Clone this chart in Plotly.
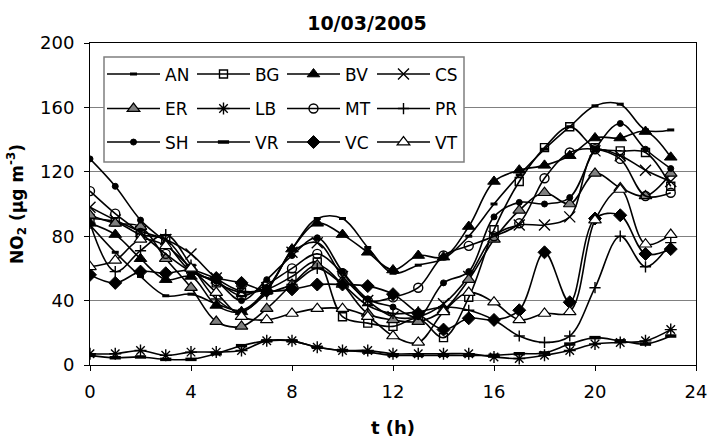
import plotly.graph_objects as go

# Hourly NO2 concentrations (µg m-3) at twelve stations, 10/03/2005
hours = list(range(24))

AN = [87, 70, 55, 43, 44, 38, 34, 47, 72, 91, 91, 73, 57, 62, 66, 80, 100, 118, 134, 148, 161, 162, 146, 146]
BG = [91, 89, 81, 78, 60, 51, 45, 47, 55, 64, 30, 26, 24, 29, 17, 42, 84, 114, 135, 148, 135, 133, 132, 111]
BV = [88, 81, 66, 53, 55, 37, 33, 46, 72, 88, 81, 70, 59, 68, 67, 86, 114, 121, 124, 130, 141, 141, 145, 129]
CS = [98, 90, 83, 78, 69, 54, 46, 48, 70, 76, 55, 40, 30, 30, 38, 55, 80, 87, 87, 92, 133, 130, 121, 114]
ER = [93, 88, 86, 66, 48, 27, 24, 35, 50, 62, 50, 32, 28, 27, 34, 53, 78, 96, 107, 100, 119, 110, 105, 119]
LB = [7, 7, 9, 6, 8, 8, 9, 15, 15, 11, 9, 9, 7, 7, 7, 7, 5, 4, 6, 9, 13, 14, 15, 22]
MT = [108, 94, 82, 69, 58, 52, 43, 50, 60, 69, 57, 40, 42, 48, 68, 74, 80, 88, 116, 132, 134, 128, 105, 107]
PR = [88, 58, 71, 81, 62, 41, 33, 44, 50, 60, 50, 37, 32, 33, 36, 34, 28, 18, 14, 18, 48, 80, 61, 76]
SH = [128, 111, 90, 76, 58, 52, 40, 53, 68, 79, 58, 41, 36, 30, 51, 58, 92, 101, 100, 104, 134, 150, 134, 122]
VR = [6, 4.5, 5, 3.5, 3.5, 7, 12, 15, 15, 11, 9, 8, 6, 6, 6, 6, 6, 7, 7.5, 13, 17, 15, 13, 18]
VC = [56, 51, 58, 57, 59, 54, 51, 46, 47, 50, 50, 49, 44, 32, 22, 29, 28, 34, 70, 39, 91, 93, 69, 72]
VT = [61, 65, 78, 74, 60, 45, 30, 28, 32, 35, 35, 30, 18, 14, 33, 45, 39, 28, 32, 33, 90, 109, 75, 81]

station_names = ["AN", "BG", "BV", "CS", "ER", "LB", "MT", "PR", "SH", "VR", "VC", "VT"]
station_values = [AN, BG, BV, CS, ER, LB, MT, PR, SH, VR, VC, VT]

FONT = "DejaVu Sans"
BLACK = "black"

# marker style per station: (symbol, size, fill colour, outline width)
marker_styles = {
    "AN": ("line-ew", 5, BLACK, 3),
    "BG": ("square-open", 8, BLACK, 1.4),
    "BV": ("triangle-up", 11, BLACK, 1),
    "CS": ("x-thin-open", 11, BLACK, 1.4),
    "ER": ("triangle-up", 11, "#808080", 1.2),
    "LB": ("asterisk-open", 10, BLACK, 1.4),
    "MT": ("circle-open", 9, BLACK, 1.4),
    "PR": ("cross-thin-open", 8, BLACK, 1.4),
    "SH": ("circle", 6, BLACK, 1),
    "VR": ("line-ew", 8, BLACK, 3.5),
    "VC": ("diamond", 10, BLACK, 1),
    "VT": ("triangle-up", 11, "white", 1.2),
}

# plot area in pixels
W, H = 709, 438
ML, MR, MT_, MB = 90, 13, 43, 73
PW, PH = W - ML - MR, H - MT_ - MB


def px_x(p):
    return (p - ML) / PW


def px_y(p):
    return (H - MB - p) / PH


fig = go.Figure()
legend_ids = ["legend", "legend2", "legend3"]
for i, (name, vals) in enumerate(zip(station_names, station_values)):
    sym, size, fill, lw = marker_styles[name]
    fig.add_trace(go.Scatter(
        x=hours, y=vals, name=name,
        mode="lines+markers",
        line=dict(color=BLACK, width=1.6, shape="spline", smoothing=1),
        marker=dict(symbol=sym, size=size, color=fill,
                    line=dict(color=BLACK, width=lw)),
        legend=legend_ids[i // 4],
        hoverinfo="x+y+name",
    ))

legend_rows_px = [74.5, 109, 142.5]
legend_common = dict(
    orientation="h", xanchor="left", yanchor="middle",
    x=px_x(102), entrywidth=22, entrywidthmode="pixels", itemwidth=53,
    font=dict(family=FONT, size=17, color=BLACK),
    bgcolor="rgba(0,0,0,0)", borderwidth=0, traceorder="normal",
)
legend_layout = {}
for lid, ypx in zip(legend_ids, legend_rows_px):
    legend_layout[lid] = dict(legend_common, y=px_y(ypx))

axis_common = dict(
    showline=True, linecolor=BLACK, linewidth=1, mirror=True,
    ticks="outside", ticklen=5, tickcolor=BLACK, tickwidth=1,
    tickfont=dict(family=FONT, size=18, color=BLACK),
    zeroline=False, automargin=False,
)

fig.update_layout(
    width=W, height=H,
    margin=dict(l=ML, r=MR, t=MT_, b=MB, autoexpand=False),
    paper_bgcolor="white", plot_bgcolor="white",
    title=dict(text="<b>10/03/2005</b>", x=367 / W, xanchor="center",
               y=1 - 23 / H, yanchor="middle",
               font=dict(family=FONT, size=19, color=BLACK)),
    xaxis=dict(axis_common, range=[0, 24], dtick=4, tick0=0, showgrid=False,
               ticklabelstandoff=5,
               title=dict(text="<b>t (h)</b>", standoff=24,
                          font=dict(family=FONT, size=18, color=BLACK))),
    yaxis=dict(axis_common, range=[0, 200], dtick=40, tick0=0,
               showgrid=True, gridcolor="#808080", gridwidth=1,
               ticklabelstandoff=6,
               title=dict(text="<b>NO<sub>2</sub> (µg m<sup>-3</sup>)</b>",
                          standoff=12,
                          font=dict(family=FONT, size=17, color=BLACK))),
    shapes=[dict(type="rect", xref="paper", yref="paper",
                 x0=px_x(104), x1=px_x(464), y0=px_y(162), y1=px_y(57),
                 fillcolor="white", line=dict(color="#7f7f7f", width=1.5),
                 layer="above")],
    showlegend=True,
    **legend_layout,
)

fig.write_html("out.html")
